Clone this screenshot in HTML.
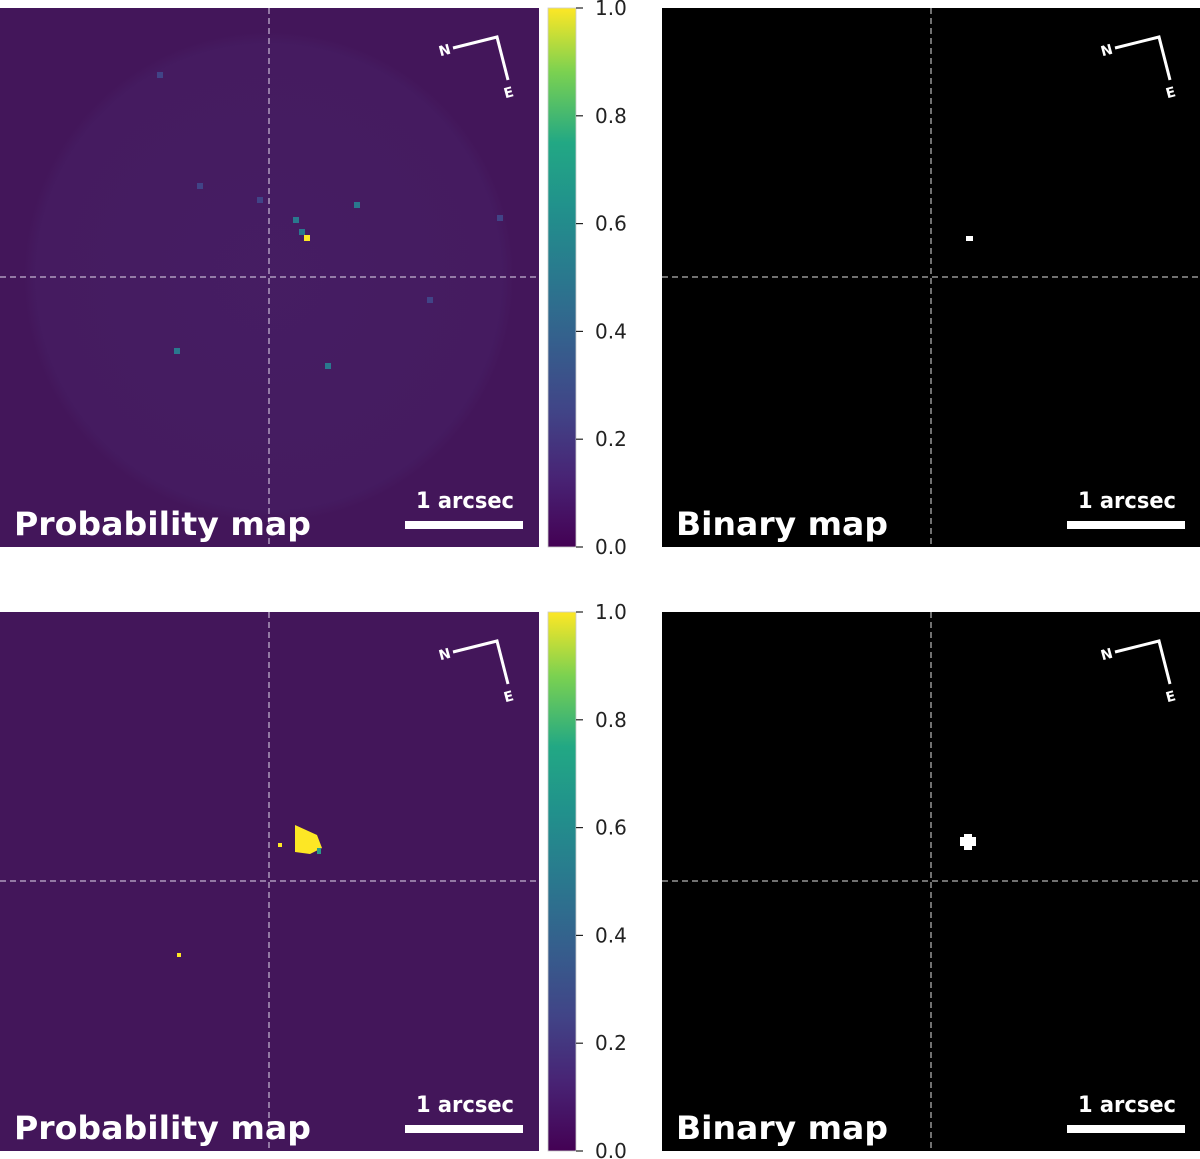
<!DOCTYPE html>
<html><head><meta charset="utf-8"><style>
body{margin:0;background:#fff;width:1200px;height:1159px;overflow:hidden}
svg{display:block;font-family:"DejaVu Sans","Liberation Sans",sans-serif}
</style></head><body>
<svg id="fig" width="1200" height="1159">
<defs>
<linearGradient id="vir" x1="0" y1="1" x2="0" y2="0">
<stop offset="0" stop-color="#440154"/><stop offset="0.13" stop-color="#482475"/><stop offset="0.25" stop-color="#414487"/><stop offset="0.38" stop-color="#355f8d"/><stop offset="0.5" stop-color="#2a788e"/><stop offset="0.63" stop-color="#21918c"/><stop offset="0.75" stop-color="#22a884"/><stop offset="0.88" stop-color="#7ad151"/><stop offset="1" stop-color="#fde725"/>
</linearGradient>
<radialGradient id="noise"><stop offset="0" stop-color="#4a2a72" stop-opacity="0.35"/><stop offset="0.95" stop-color="#4a2a72" stop-opacity="0.25"/><stop offset="1" stop-color="#4a2a72" stop-opacity="0"/></radialGradient>
</defs>
</svg>
<script>
const rowsY=[8,612];
const probLabel="Probability map", binLabel="Binary map";
const cbTicks=[0.0,0.2,0.4,0.6,0.8,1.0];
const topSpots=[[307,238,1.0],[302,232,0.7],[296,220,0.5],[357,205,0.6],[177,351,0.55],[328,366,0.55],[430,300,0.4],[200,186,0.35],[160,75,0.3],[260,200,0.3],[500,218,0.4]];
const botBlob=[[305,840,1.0]];
const botDots=[[179,955],[280,845]];
const binTop=[[969,239,3]];
const binBot=[[968,842,8]];
const svg=document.getElementById('fig');const NS='http://www.w3.org/2000/svg';
function el(t,a,p){const e=document.createElementNS(NS,t);for(const k in a)e.setAttribute(k,a[k]);(p||svg).appendChild(e);return e}
function vir(v){const s=[[0,'#440154'],[0.25,'#414487'],[0.5,'#2a788e'],[0.75,'#22a884'],[0.9,'#fde725']];let c=s[0][1];for(const q of s)if(v>=q[0])c=q[1];return c}
function panel(x,y,bg,label,isProb,ri){
 const g=el('g',{});
 
 
 el('rect',{x:x,y:y,width:539,height:539,fill:bg},g);
 if(isProb&&ri===0){el('circle',{cx:x+269,cy:y+269,r:245,fill:'url(#noise)'},g)}
 if(isProb&&ri===0){topSpots.forEach(s=>{el('rect',{x:s[0]-3,y:s[1]-3,width:6,height:6,fill:vir(s[2])},g)})}
 if(isProb&&ri===1){botBlob.forEach(b=>{el('polygon',{points:`${b[0]-10},${b[1]-15} ${b[0]+12},${b[1]-5} ${b[0]+17},${b[1]+8} ${b[0]+5},${b[1]+14} ${b[0]-10},${b[1]+12}`,fill:'#fde725'},g);el('rect',{x:b[0]+12,y:b[1]+8,width:4,height:6,fill:'#2a9d8a'},g)});botDots.forEach(d=>el('rect',{x:d[0]-2,y:d[1]-2,width:4,height:4,fill:'#fde725'},g))}
 if(!isProb){(ri===0?binTop:binBot).forEach(b=>{if(ri===0){el('rect',{x:b[0]-3,y:b[1]-3,width:7,height:5,fill:'#fff'},g)}else{el('polygon',{points:`${b[0]-4},${b[1]-8} ${b[0]+4},${b[1]-8} ${b[0]+4},${b[1]-5} ${b[0]+8},${b[1]-5} ${b[0]+8},${b[1]+4} ${b[0]+4},${b[1]+4} ${b[0]+4},${b[1]+8} ${b[0]-4},${b[1]+8} ${b[0]-4},${b[1]+4} ${b[0]-8},${b[1]+4} ${b[0]-8},${b[1]-5} ${b[0]-4},${b[1]-5}`,fill:'#fff'},g)}})}
 const dash=isProb?'rgba(220,210,230,0.7)':'rgba(200,200,200,0.75)';
 el('line',{x1:x+269,y1:y,x2:x+269,y2:y+539,stroke:dash,'stroke-width':1.5,'stroke-dasharray':'6,4'},g);
 el('line',{x1:x,y1:y+269,x2:x+539,y2:y+269,stroke:dash,'stroke-width':1.5,'stroke-dasharray':'6,4'},g);
 const cx=x+497,cy=y+29;
 el('polyline',{points:`${x+453},${y+40} ${cx},${cy} ${x+508},${y+72}`,fill:'none',stroke:'#fff','stroke-width':3},g);
 const n=el('text',{x:x+439,y:y+47,fill:'#fff','font-size':14,'font-weight':'bold',transform:`rotate(-15 ${x+445} ${y+43})`},g);n.textContent='N';
 const e=el('text',{x:x+504,y:y+89,fill:'#fff','font-size':14,'font-weight':'bold',transform:`rotate(-15 ${x+510} ${y+85})`},g);e.textContent='E';
 const t=el('text',{x:x+14,y:y+527,fill:'#fff','font-size':32,'font-weight':'bold',textLength:isProb?297:212,lengthAdjust:'spacingAndGlyphs'},g);t.textContent=label;
 const a=el('text',{x:x+416,y:y+500,fill:'#fff','font-size':22,'font-weight':'bold',textLength:98,lengthAdjust:'spacingAndGlyphs'},g);a.textContent='1 arcsec';
 const sb=el('rect',{x:x+405,y:y+513,width:118,height:8,fill:'#fff'},g);
}
function colorbar(y,ri){
 const g=el('g',{});
 
 
 el('rect',{x:548,y:y,width:28,height:539,fill:'url(#vir)',stroke:'#ccc','stroke-width':0.8},g);
 cbTicks.forEach(v=>{const ty=y+539-v*539;
  el('line',{x1:576,y1:ty,x2:583,y2:ty,stroke:'#222','stroke-width':1.2},g);
  const t=el('text',{x:595,y:ty+7,'font-size':20,fill:'#222'},g);t.textContent=v.toFixed(1);
  });
}
rowsY.forEach((y,i)=>{panel(0,y,'#43165a',probLabel,true,i);colorbar(y,i);panel(662,y,'#000',binLabel,false,i)});
</script>
</body></html>
